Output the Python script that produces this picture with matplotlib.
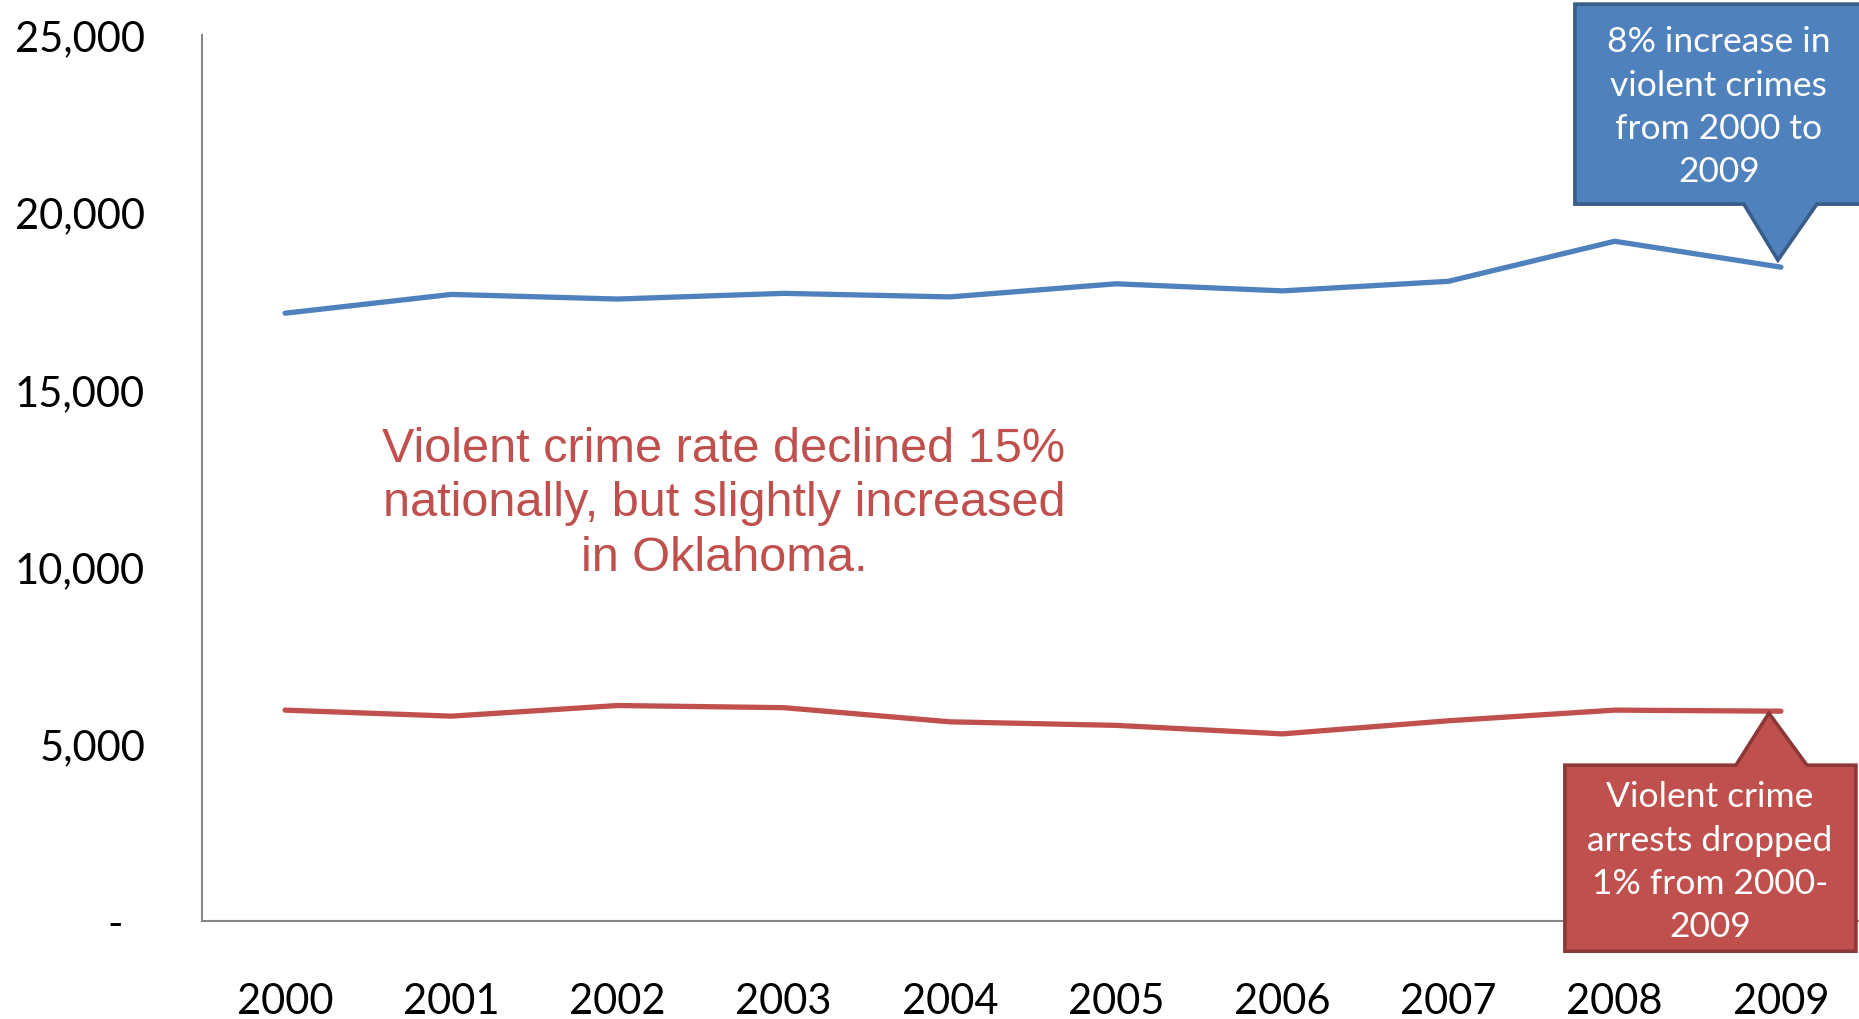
import matplotlib
matplotlib.use('Agg')
import matplotlib.pyplot as plt
from matplotlib.patches import Polygon
from matplotlib import transforms

years = ['2000', '2001', '2002', '2003', '2004', '2005', '2006', '2007', '2008', '2009']
violent_crimes = [17150, 17680, 17550, 17710, 17610, 17980, 17780, 18050, 19180, 18450]
violent_arrests = [5950, 5780, 6080, 6020, 5620, 5520, 5280, 5650, 5950, 5920]
y_ticks = [0, 5000, 10000, 15000, 20000, 25000]

BLUE = '#4F81BD'
BLUE_EDGE = '#385D8A'
RED = '#C0504D'
RED_EDGE = '#8C3836'

W, H = 1859, 1020
fig = plt.figure(figsize=(W / 100, H / 100), dpi=100, facecolor='white')
ax = fig.add_axes([202 / W, 1 - 922 / H, 1662 / W, 886 / H])

x = list(range(len(years)))
ax.plot(x, violent_crimes, color=BLUE, lw=3.8, solid_capstyle='round', zorder=3)
ax.plot(x, violent_arrests, color=RED, lw=3.8, solid_capstyle='round', zorder=3)

ax.set_xlim(-0.5, len(years) - 0.5)
ax.set_ylim(0, 25000)
ax.set_xticks(x)
ax.set_xticklabels(years)
ax.set_yticks(y_ticks)
ax.set_yticklabels([f'{v:,}' if v else '-  ' for v in y_ticks])
ax.tick_params(axis='both', length=0, labelsize=30)
ax.tick_params(axis='x', pad=44)
ax.tick_params(axis='y', pad=41)
for lbl in ax.get_xticklabels() + ax.get_yticklabels():
    lbl.set_family('Lato')

for side in ['top', 'right']:
    ax.spines[side].set_visible(False)
for side in ['left', 'bottom']:
    ax.spines[side].set_color('#868686')
    ax.spines[side].set_linewidth(1.5)
ax.spines['bottom'].set_clip_on(False)

ax.text(0.314, 0.472,
        'Violent crime rate declined 15%\nnationally, but slightly increased\nin Oklahoma.',
        transform=ax.transAxes, ha='center', va='center', color=RED,
        fontsize=35, family='Liberation Sans', linespacing=1.27)


def callout(idx, values, verts, text_xy, text, face, edge):
    # pixel offsets (y pointing down) around the data point at index idx
    anchor = transforms.ScaledTranslation(idx, values[idx], ax.transData)
    tr = transforms.Affine2D().scale(1, -1) + anchor
    poly = Polygon(verts, closed=True, transform=tr, facecolor=face,
                   edgecolor=edge, lw=2.6, joinstyle='miter', clip_on=False, zorder=5)
    ax.add_patch(poly)
    ax.text(text_xy[0], text_xy[1], text, transform=tr, ha='center', va='center',
            color='white', fontsize=25.5, family='Lato', linespacing=1.43,
            zorder=6, clip_on=False)


last = len(years) - 1
callout(last, violent_crimes,
        [(-206, -263), (95, -263), (95, -63), (36, -63), (-3, -7), (-37, -63), (-206, -63)],
        (-62, -161), '8% increase in\nviolent crimes\nfrom 2000 to\n2009', BLUE, BLUE_EDGE)
callout(last, violent_arrests,
        [(-216, 54), (-45, 54), (-12, 2), (26, 54), (75, 54), (75, 240), (-216, 240)],
        (-71, 150), 'Violent crime\narrests dropped\n1% from 2000-\n2009', RED, RED_EDGE)

fig.savefig('out.png', dpi=100, facecolor='white')
